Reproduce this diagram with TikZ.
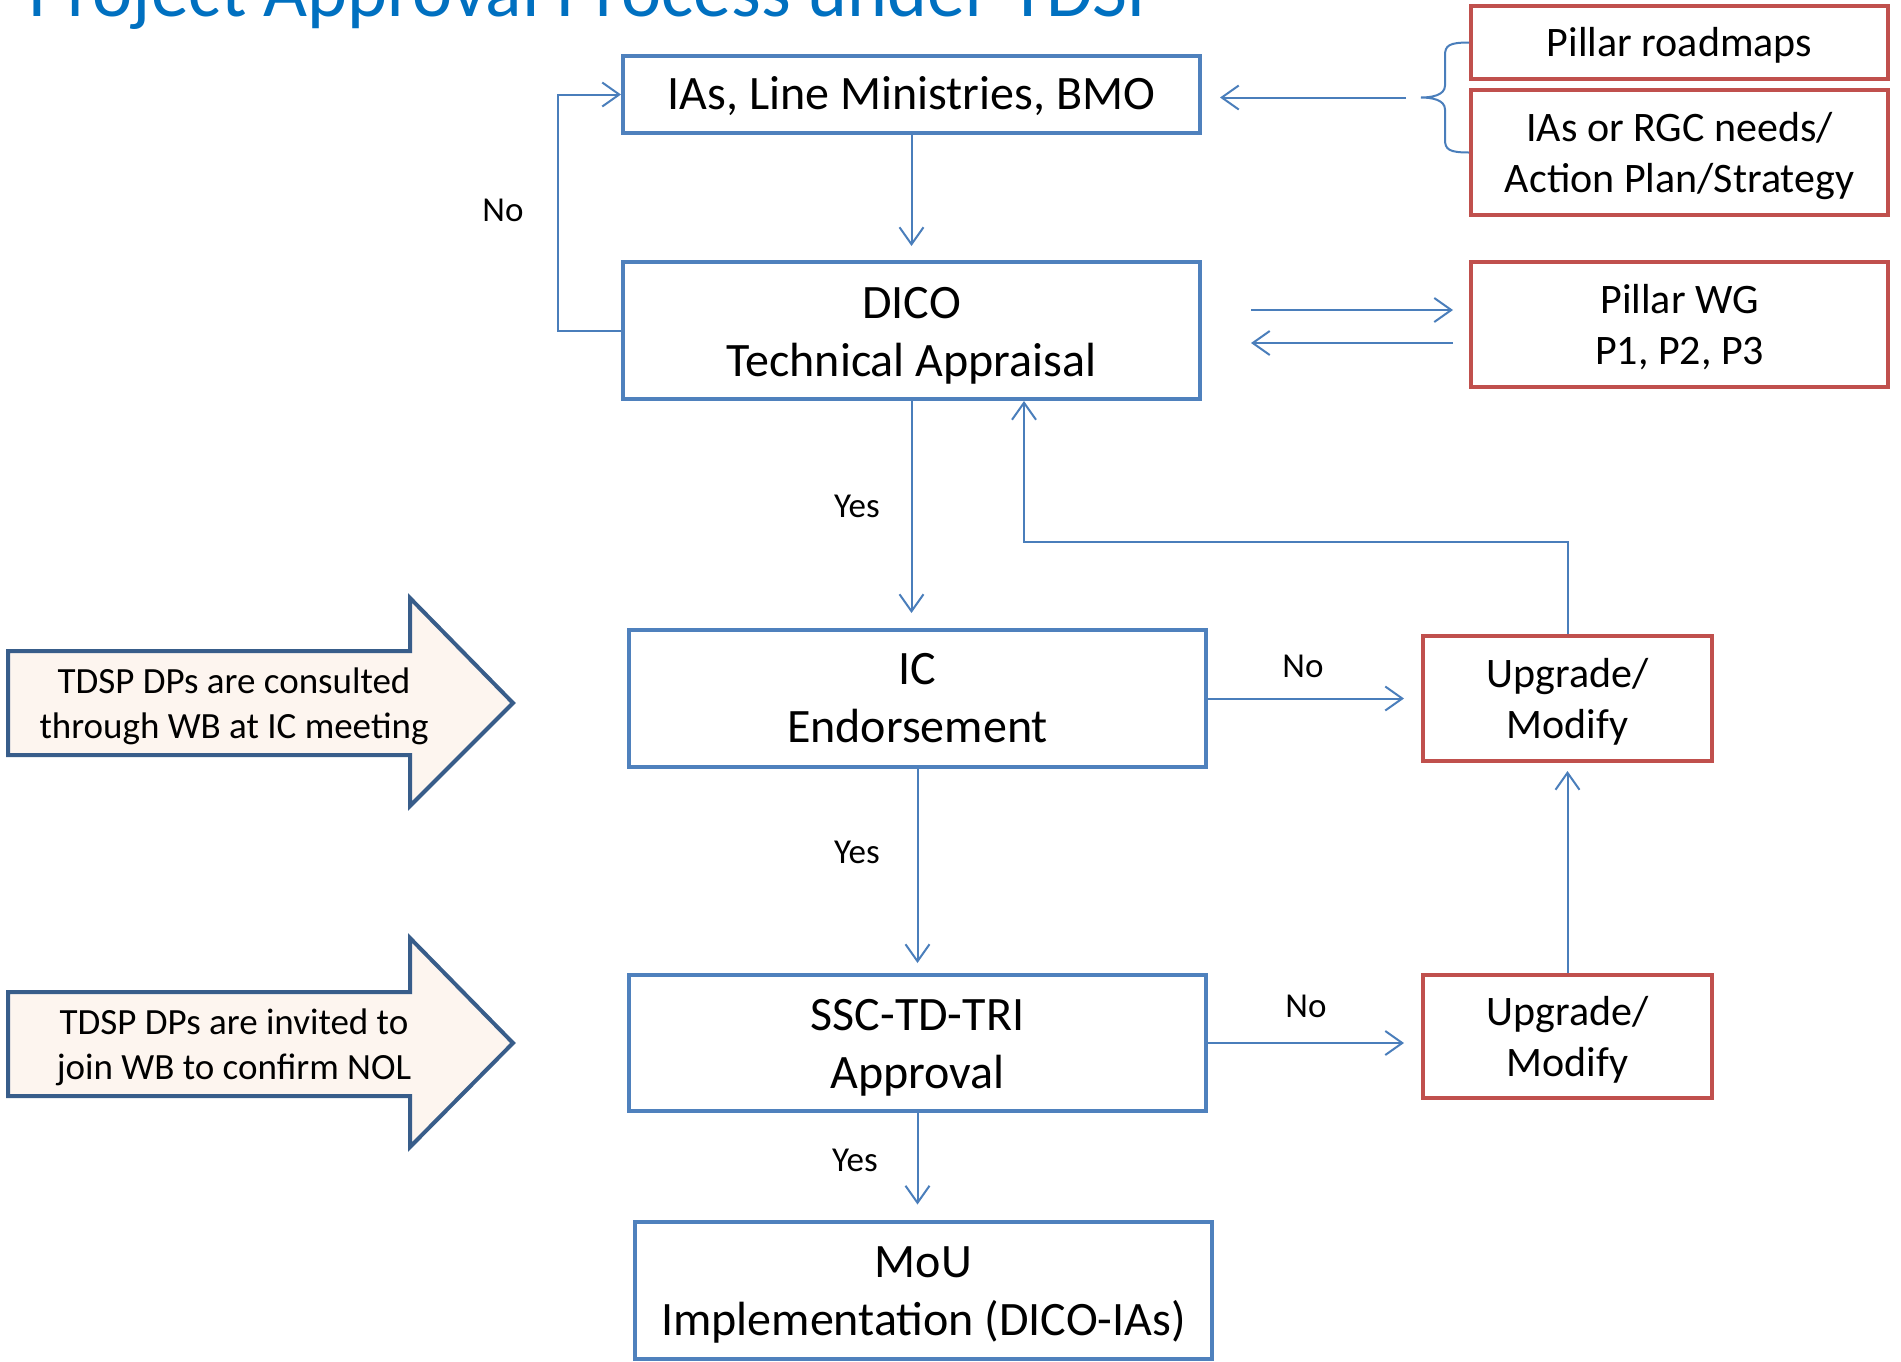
\documentclass[tikz,border=0pt]{standalone}
\usepackage{fontspec}
\setmainfont{Carlito}
\usetikzlibrary{arrows.meta,calc}
\definecolor{boxblue}{HTML}{4F81BD}
\definecolor{linkblue}{HTML}{4A7EBB}
\definecolor{boxred}{HTML}{C0504D}
\definecolor{callout}{HTML}{385D8A}
\definecolor{calloutfill}{HTML}{FDF5EF}
\definecolor{titleblue}{HTML}{0070C0}
\newcommand\sinktext[2]{\raisebox{-#1}[\height][\depth]{\begin{tabular}{@{}c@{}}#2\end{tabular}}}
\begin{document}
\begin{tikzpicture}[x=1pt,y=-1pt,
  bluebox/.style={draw=boxblue,line width=4pt,minimum width=577pt,inner sep=0pt,align=center,font=\fontsize{48}{58}\selectfont},
  redbox/.style={draw=boxred,line width=4pt,inner sep=0pt,align=center,font=\fontsize{42}{51}\selectfont},
  conn/.style={draw=linkblue,line width=2pt,-{Straight Barb[length=17pt,width=24pt]}},
  link/.style={draw=linkblue,line width=2pt},
  lbl/.style={font=\fontsize{35}{42}\selectfont,inner sep=0pt},
  note/.style={align=center,font=\fontsize{37}{45}\selectfont,inner sep=0pt},
  callarrow/.style={draw=callout,fill=calloutfill,line width=4pt,line join=miter}
]
\useasboundingbox (0,0) rectangle (1901,1361);
\clip (0,0) rectangle (1901,1361);

\node[anchor=base west,text=titleblue,font=\fontsize{76}{90}\selectfont,inner sep=0pt] (title) at (28,16) {Project Approval Process under TDSP};

% main boxes
\node[bluebox,minimum height=77pt] (ias) at (911.5,94.5) {\sinktext{3pt}{IAs, Line Ministries, BMO}};
\node[bluebox,minimum height=137pt] (dico) at (911.5,330.5) {\sinktext{5pt}{DICO\\Technical Appraisal}};
\node[bluebox,minimum height=137pt] (ic) at (917.5,698.5) {\sinktext{3pt}{IC\\Endorsement}};
\node[bluebox,minimum height=136pt] (ssc) at (917.5,1043) {\sinktext{5pt}{SSC-TD-TRI\\Approval}};
\node[bluebox,minimum height=137pt] (mou) at (923.5,1290) {\sinktext{5pt}{MoU\\Implementation (DICO-IAs)}};

% red boxes
\node[redbox,minimum width=417pt,minimum height=73pt] (pr) at (1679.5,42.5) {\sinktext{4pt}{Pillar roadmaps}};
\node[redbox,minimum width=417pt,minimum height=125pt] (rgc) at (1679.5,152.5) {\sinktext{4pt}{IAs or RGC needs/\\Action Plan/Strategy}};
\node[redbox,minimum width=417pt,minimum height=125pt] (wg) at (1679.5,324.5) {\sinktext{4pt}{Pillar WG\\P1, P2, P3}};
\node[redbox,minimum width=289pt,minimum height=125pt] (up1) at (1567.5,698.5) {\sinktext{4pt}{Upgrade/\\Modify}};
\node[redbox,minimum width=289pt,minimum height=123pt] (up2) at (1567.5,1036.5) {\sinktext{4pt}{Upgrade/\\Modify}};

% brace
\coordinate (bt) at ($(pr.west)!0.5!(rgc.west)+(-48,0)$);
\coordinate (bs) at ($(bt)+(-15,0)$);
\draw[link] (pr.west) .. controls +(-20,0) and +(0,-10) .. ($(pr.west)+(-24,13)$)
  -- ($(bt)+(24,-12)$) .. controls +(0,10) and +(10,0) .. (bt)
  .. controls +(10,0) and +(0,-10) .. ($(bt)+(24,12)$)
  -- ($(rgc.west)+(-24,-13)$) .. controls +(0,10) and +(-20,0) .. (rgc.west);
\draw[conn,shorten >=18pt] (bs) -- (bs -| ias.east);

% connectors
\draw[conn,shorten >=14pt] (ias.south) -- (dico.north);
\draw[conn] (dico.west) -- ++(-63,0) |- (ias.west);
\node[lbl] (no1) at (503,210) {No};

\draw[conn] ([shift={(49,-20.5)}]dico.east) -- ([shift={(-16,-14.5)}]wg.west);
\draw[conn] ([shift={(-16,18.5)}]wg.west) -- ([shift={(49,12.5)}]dico.east);

\draw[conn,shorten >=15pt] (dico.south) -- (dico.south |- ic.north);
\node[lbl] (yes1) at (857,506) {Yes};

\draw[conn] (up1.north) -- ++(0,-92) -| ([xshift=112.5pt]dico.south);

\draw[conn,shorten >=17pt] (ic.east) -- (up1.west);
\node[lbl] (no2) at (1303,666) {No};

\draw[conn,shorten >=10pt] (ic.south) -- (ssc.north);
\node[lbl] (yes2) at (857,852) {Yes};

\draw[conn,shorten >=8pt] (up2.north) -- (up1.south);

\draw[conn,shorten >=17pt] (ssc.east) -- (ssc.east -| up2.west);
\node[lbl] (no3) at (1306,1006) {No};

\draw[conn,shorten >=15pt] (ssc.south) -- (ssc.south |- mou.north);
\node[lbl] (yes3) at (855,1160) {Yes};

% callout arrows
\draw[callarrow] (8,651) -- (410,651) -- (410,598) -- (513,703) -- (410,806) -- (410,755) -- (8,755) -- cycle;
\node[note] (n1) at (234,706) {TDSP DPs are consulted\\through WB at IC meeting};
\draw[callarrow] (8,992) -- (410,992) -- (410,938) -- (513,1043) -- (410,1147) -- (410,1096) -- (8,1096) -- cycle;
\node[note] (n2) at (234,1047) {TDSP DPs are invited to\\join WB to confirm NOL};
\end{tikzpicture}
\end{document}
